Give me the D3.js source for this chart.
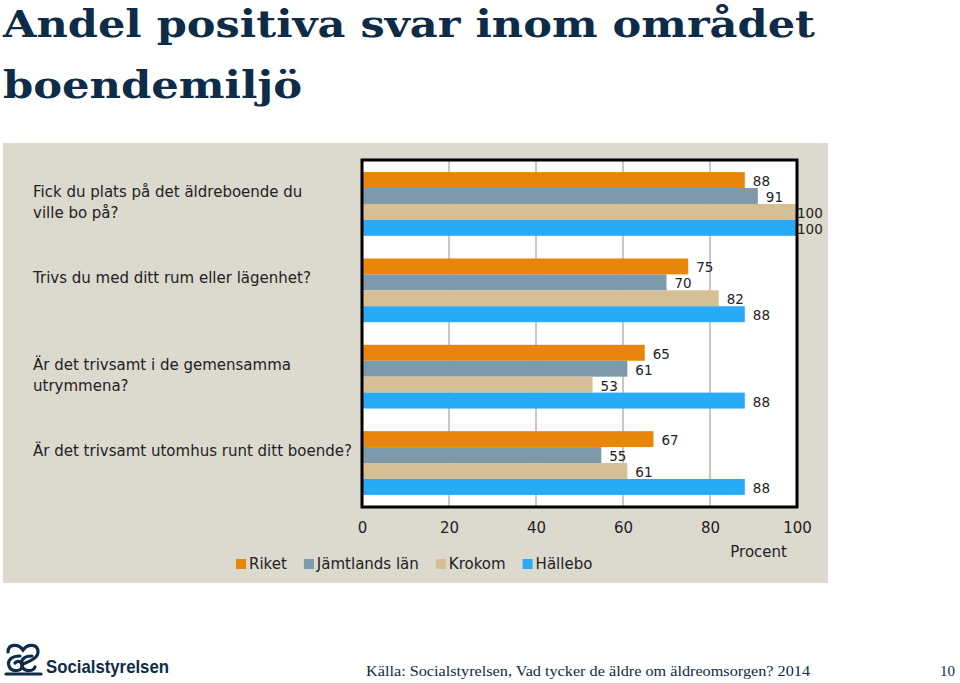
<!DOCTYPE html>
<html><head><meta charset="utf-8">
<script src="https://cdn.jsdelivr.net/npm/d3@7"></script>
<style>
html,body{margin:0;padding:0;background:#fff;}
svg{display:block;}
</style></head>
<body>
<svg id="c" width="960" height="683"></svg>
<script>
// ---- data ----
const categories = [
  "Fick du plats på det äldreboende du|ville bo på?",
  "Trivs du med ditt rum eller lägenhet?",
  "Är det trivsamt i de gemensamma|utrymmena?",
  "Är det trivsamt utomhus runt ditt boende?"
];
const seriesNames = ["Riket", "Jämtlands län", "Krokom", "Hällebo"];
const riket     = [88, 75, 65, 67];
const jamtland  = [91, 70, 61, 55];
const krokom    = [100, 82, 53, 61];
const hallebo   = [100, 88, 88, 88];
const seriesValues = [riket, jamtland, krokom, hallebo];
const seriesColors = ["#e8860c", "#7e99aa", "#d4bf97", "#28aaf6"];
const xTicks = [0, 20, 40, 60, 80, 100];
const titleLines = ["Andel positiva svar inom området", "boendemiljö"];
const axisTitle = "Procent";
const sourceText = "Källa: Socialstyrelsen, Vad tycker de äldre om äldreomsorgen? 2014";
const pageNumber = "10";
const logoText = "Socialstyrelsen";

// ---- layout ----
const svg = d3.select("#c");
const sans = "'DejaVu Sans', sans-serif";
const textCol = "#222";

// title
const navy = "#0e2c47";
svg.append("text").attr("x", 3).attr("y", 36.5)
  .attr("font-family", "'DejaVu Serif', serif").attr("font-weight", "bold")
  .attr("font-size", 38).attr("fill", navy)
  .attr("textLength", 812).attr("lengthAdjust", "spacingAndGlyphs")
  .text(titleLines[0]);
svg.append("text").attr("x", 3).attr("y", 97.5)
  .attr("font-family", "'DejaVu Serif', serif").attr("font-weight", "bold")
  .attr("font-size", 38).attr("fill", navy)
  .attr("textLength", 299).attr("lengthAdjust", "spacingAndGlyphs")
  .text(titleLines[1]);

// panel
svg.append("rect").attr("x", 3).attr("y", 143).attr("width", 825).attr("height", 440)
  .attr("fill", "#dcd9ce");

const plot = {left: 362, right: 797, top: 160, bottom: 507};
svg.append("rect").attr("x", plot.left).attr("y", plot.top)
  .attr("width", plot.right - plot.left).attr("height", plot.bottom - plot.top)
  .attr("fill", "#fff");

const x = d3.scaleLinear().domain([0, 100]).range([plot.left, plot.right]);
const y0 = d3.scaleBand().domain(d3.range(categories.length))
  .range([plot.top, plot.bottom]).paddingInner(0.262).paddingOuter(0.14);
const y1 = d3.scaleBand().domain(d3.range(seriesNames.length))
  .range([0, y0.bandwidth()]);

// gridlines
svg.append("g").selectAll("line").data(xTicks.filter(t => t > 0 && t < 100)).join("line")
  .attr("x1", d => x(d)).attr("x2", d => x(d))
  .attr("y1", plot.top).attr("y2", plot.bottom)
  .attr("stroke", "#a3a3a3").attr("stroke-width", 1.2);

// bars
const groups = svg.append("g").selectAll("g").data(categories).join("g")
  .attr("transform", (d, i) => `translate(0,${y0(i)})`);
groups.each(function(cat, ci) {
  const g = d3.select(this);
  seriesValues.forEach((vals, si) => {
    const v = vals[ci];
    g.append("rect").attr("x", x(0)).attr("y", y1(si))
      .attr("width", x(v) - x(0)).attr("height", y1.bandwidth())
      .attr("fill", seriesColors[si]);
  });
  seriesValues.forEach((vals, si) => {
    const v = vals[ci];
    g.append("text")
      .attr("x", Math.min(x(v) + 8, x.range()[1]))
      .attr("y", y1(si) + y1.bandwidth() / 2 + 6)
      .attr("font-family", sans).attr("font-size", 13.5).attr("fill", textCol)
      .text(v);
  });
});

// plot border
svg.append("rect").attr("x", plot.left).attr("y", plot.top)
  .attr("width", plot.right - plot.left).attr("height", plot.bottom - plot.top)
  .attr("fill", "none").attr("stroke", "#000").attr("stroke-width", 3);

// category labels
categories.forEach((cat, ci) => {
  const lines = cat.split("|");
  const base = y0(ci) + y0.bandwidth() / 2 - 7;
  const t = svg.append("text").attr("font-family", sans).attr("font-size", 15)
    .attr("fill", textCol);
  lines.forEach((ln, li) => {
    t.append("tspan").attr("x", 33).attr("y", base + li * 21).text(ln);
  });
});

// x axis
const axis = d3.axisBottom(x).tickValues(xTicks).tickSize(0).tickPadding(0);
const ag = svg.append("g").attr("transform", `translate(0,${plot.bottom})`).call(axis);
ag.select(".domain").remove();
ag.selectAll("text").attr("font-family", sans).attr("font-size", 15)
  .attr("fill", textCol).attr("dy", null).attr("y", 26);

svg.append("text").attr("x", 787).attr("y", 557).attr("text-anchor", "end")
  .attr("font-family", sans).attr("font-size", 15).attr("fill", textCol)
  .text(axisTitle);

// legend
let lx = 236;
seriesNames.forEach((name, i) => {
  svg.append("rect").attr("x", lx).attr("y", 559).attr("width", 10).attr("height", 10)
    .attr("fill", seriesColors[i]);
  const t = svg.append("text").attr("x", lx + 13).attr("y", 569)
    .attr("font-family", sans).attr("font-size", 15).attr("fill", textCol).text(name);
  lx = lx + 13 + t.node().getComputedTextLength() + 17;
});

// footer: logo
const logo = svg.append("g").attr("fill", "none").attr("stroke", navy).attr("stroke-width", 3.2)
  .attr("stroke-linecap", "round");
logo.append("path").attr("d", "M8,652 C8,644 18,643 23,650 C28,643 38,644 38,652 C38,658 30,661 23,664");
logo.append("path").attr("d", "M20,656 C12,656 7,660 9,666 C11,672 20,672 22,667 C24,662 18,660 15,663");
logo.append("path").attr("d", "M32,656 C24,656 20,660 22,666 C24,672 33,672 35,667");
logo.append("path").attr("d", "M6,674 L41,674");
svg.append("text").attr("x", 46).attr("y", 673)
  .attr("font-family", "'Liberation Sans', sans-serif").attr("font-weight", "bold")
  .attr("font-size", 19).attr("fill", navy)
  .attr("textLength", 123).attr("lengthAdjust", "spacingAndGlyphs")
  .text(logoText);

svg.append("text").attr("x", 366).attr("y", 676)
  .attr("font-family", "'Liberation Serif', serif").attr("font-size", 15).attr("fill", navy)
  .attr("textLength", 444).attr("lengthAdjust", "spacingAndGlyphs")
  .text(sourceText);
svg.append("text").attr("x", 955).attr("y", 676).attr("text-anchor", "end")
  .attr("font-family", "'Liberation Serif', serif").attr("font-size", 15).attr("fill", navy)
  .text(pageNumber);
</script>
</body></html>
